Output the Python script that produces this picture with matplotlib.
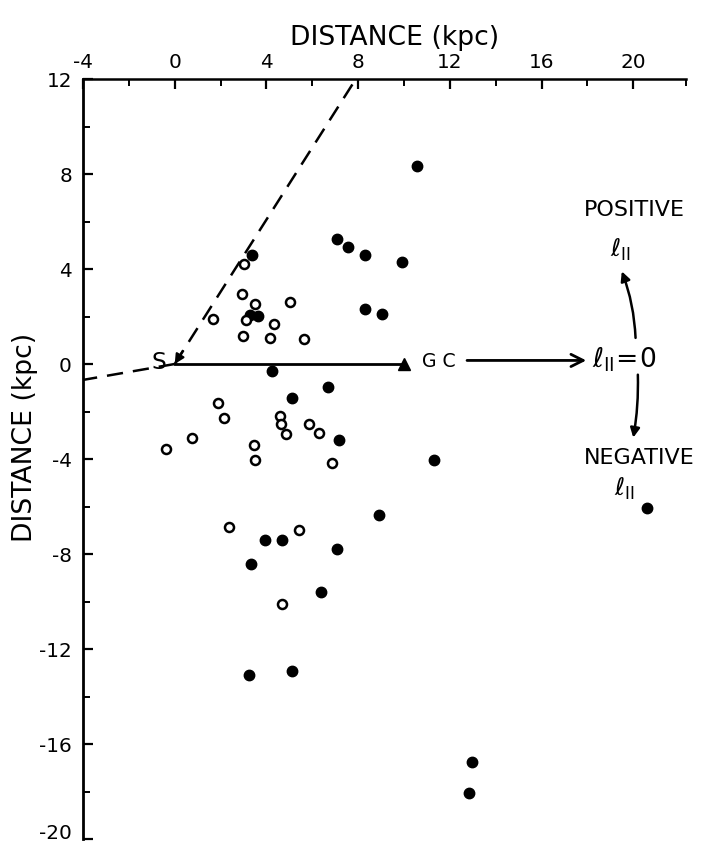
import matplotlib
matplotlib.use("Agg")
import matplotlib.pyplot as plt
from matplotlib import font_manager
from matplotlib.ticker import FixedLocator

# ---------------- data ----------------
filled_x = [10.55, 7.09, 7.57, 8.30, 9.90, 3.38, 3.29, 3.64, 8.30, 9.03,
            4.25, 6.67, 5.12, 7.16, 11.30, 8.90, 3.92, 4.67, 7.09, 3.31,
            6.39, 3.22, 5.10, 12.98, 12.84, 20.61]
filled_y = [8.35, 5.26, 4.93, 4.60, 4.29, 4.58, 2.08, 2.02, 2.32, 2.12,
            -0.28, -0.98, -1.43, -3.19, -4.03, -6.36, -7.41, -7.41, -7.79, -8.41,
            -9.61, -13.11, -12.94, -16.75, -18.06, -6.06]

open_x = [3.03, 2.93, 3.52, 5.01, 3.11, 4.34, 2.98, 4.14, 5.63, 1.66,
          1.88, 2.15, 4.60, 4.64, 5.84, 6.29, 4.86, -0.38, 0.74, 3.44,
          3.49, 6.84, 2.37, 5.43, 4.69]
open_y = [4.21, 2.96, 2.51, 2.61, 1.84, 1.68, 1.18, 1.08, 1.05, 1.91,
          -1.63, -2.26, -2.20, -2.53, -2.54, -2.89, -2.96, -3.57, -3.10, -3.42,
          -4.03, -4.18, -6.85, -6.99, -10.12]

sun = (0.0, 0.0)
gc = (10.0, 0.0)
boundary_upper = (7.9, 12.0)
boundary_lower = (-4.0, -0.67)

x_ticks = [-4, 0, 4, 8, 12, 16, 20]
x_tick_labels = ["-4", "0", "4", "8", "12", "16", "20"]
y_ticks = [12, 8, 4, 0, -4, -8, -12, -16, -20]
y_tick_labels = ["12", "8", "4", "0", "-4", "-8", "-12", "-16", "-20"]
x_label = "DISTANCE (kpc)"
y_label = "DISTANCE (kpc)"

# ---------------- fonts ----------------
names = {f.name for f in font_manager.fontManager.ttflist}
if "Liberation Sans Narrow" in names:
    fam = "Liberation Sans Narrow"
    k = 1.0
else:
    fam = "DejaVu Sans"
    k = 0.8
plt.rcParams["font.family"] = [fam, "DejaVu Sans"]
plt.rcParams["axes.unicode_minus"] = False
plt.rcParams["mathtext.fontset"] = "custom"
plt.rcParams["mathtext.rm"] = fam
plt.rcParams["mathtext.it"] = fam

fig = plt.figure(figsize=(7.02, 8.46), dpi=100)
W, H = 702, 846
ax = fig.add_axes([83 / W, 7 / H, (686 - 83) / W, (767 - 7) / H])
ax.set_xlim(-4, 22.3)
ax.set_ylim(-20, 12)

for s in ["right", "bottom"]:
    ax.spines[s].set_visible(False)
ax.spines["left"].set_linewidth(2.0)
ax.spines["top"].set_linewidth(1.8)

ax.xaxis.tick_top()
ax.xaxis.set_label_position("top")
ax.set_xticks(x_ticks)
ax.set_xticklabels(x_tick_labels, fontsize=18 * k)
ax.xaxis.set_minor_locator(FixedLocator([-2, 2, 6, 10, 14, 18, 22.3]))
ax.set_yticks(y_ticks)
ax.set_yticklabels(y_tick_labels, fontsize=18 * k)
ax.yaxis.set_minor_locator(FixedLocator([10, 6, 2, -2, -6, -10, -14, -18]))
ax.tick_params(axis="both", which="major", direction="in", length=7, width=1.6)
ax.tick_params(axis="both", which="minor", direction="in", length=5, width=1.4)
ax.tick_params(axis="x", which="major", pad=5)
ax.tick_params(axis="y", which="major", pad=8)
for lab in ax.get_yticklabels():
    if lab.get_text() == "-20":
        lab.set_va("baseline")

ax.set_xlabel(x_label, fontsize=24 * k)
ax.xaxis.set_label_coords(0.516, 1.045)
ax.set_ylabel(y_label, fontsize=24 * k)
ax.yaxis.set_label_coords(-0.075, 0.528)

# boundary dashed lines
ax.plot([sun[0], boundary_upper[0]], [sun[1], boundary_upper[1]], color="k",
        lw=1.8, dashes=[6.5, 4], clip_on=False, zorder=2)
ax.plot([sun[0], boundary_lower[0]], [sun[1], boundary_lower[1]], color="k",
        lw=1.8, dashes=[6.5, 4], clip_on=False, zorder=2)
ax.annotate("", xy=sun, xytext=(0.35, 0.55),
            arrowprops=dict(arrowstyle="-|>", color="k", lw=1.6, mutation_scale=14,
                            shrinkA=0, shrinkB=0))

# Sun - GC line
ax.plot([sun[0], gc[0]], [sun[1], gc[1]], color="k", lw=2.0, zorder=2)
ax.plot([gc[0]], [gc[1]], marker="^", color="k", ms=8, zorder=3)
ax.text(-0.7, 0.05, "S", fontsize=21 * k, ha="center", va="center")
ax.text(10.8, 0.1, "G C", fontsize=17 * k, ha="left", va="center")

# points
ax.plot(filled_x, filled_y, "o", color="k", ms=7.5, ls="none", clip_on=False, zorder=4)
ax.plot(open_x, open_y, "o", mfc="white", mec="k", mew=1.8, ms=6.5, ls="none",
        clip_on=False, zorder=4)

# annotation on right
ax.annotate("", xy=(17.95, 0.15), xytext=(12.75, 0.15),
            arrowprops=dict(arrowstyle="->", color="k", lw=2.0, mutation_scale=22,
                            shrinkA=0, shrinkB=0))
ax.text(18.2, -0.15, r"$\ell_{\mathrm{II}}\!=\!\mathrm{0}$", fontsize=24 * k,
        ha="left", va="baseline")
ax.annotate("", xy=(19.5, 3.9), xytext=(20.1, 1.1),
            arrowprops=dict(arrowstyle="-|>", color="k", lw=1.8, mutation_scale=14,
                            shrinkA=0, shrinkB=0, connectionstyle="arc3,rad=0.08"))
ax.annotate("", xy=(20.0, -3.1), xytext=(20.2, -0.45),
            arrowprops=dict(arrowstyle="-|>", color="k", lw=1.8, mutation_scale=14,
                            shrinkA=0, shrinkB=0, connectionstyle="arc3,rad=-0.05"))
ax.text(20.04, 6.48, "POSITIVE", fontsize=20 * k, ha="center", va="center",
        clip_on=False)
ax.text(19.0, 4.5, r"$\ell_{\mathrm{II}}$", fontsize=22 * k, ha="left",
        va="baseline", clip_on=False)
ax.text(20.26, -3.96, "NEGATIVE", fontsize=20 * k, ha="center", va="center",
        clip_on=False)
ax.text(19.15, -5.55, r"$\ell_{\mathrm{II}}$", fontsize=22 * k, ha="left",
        va="baseline", clip_on=False)

fig.savefig("out.png", dpi=100)
